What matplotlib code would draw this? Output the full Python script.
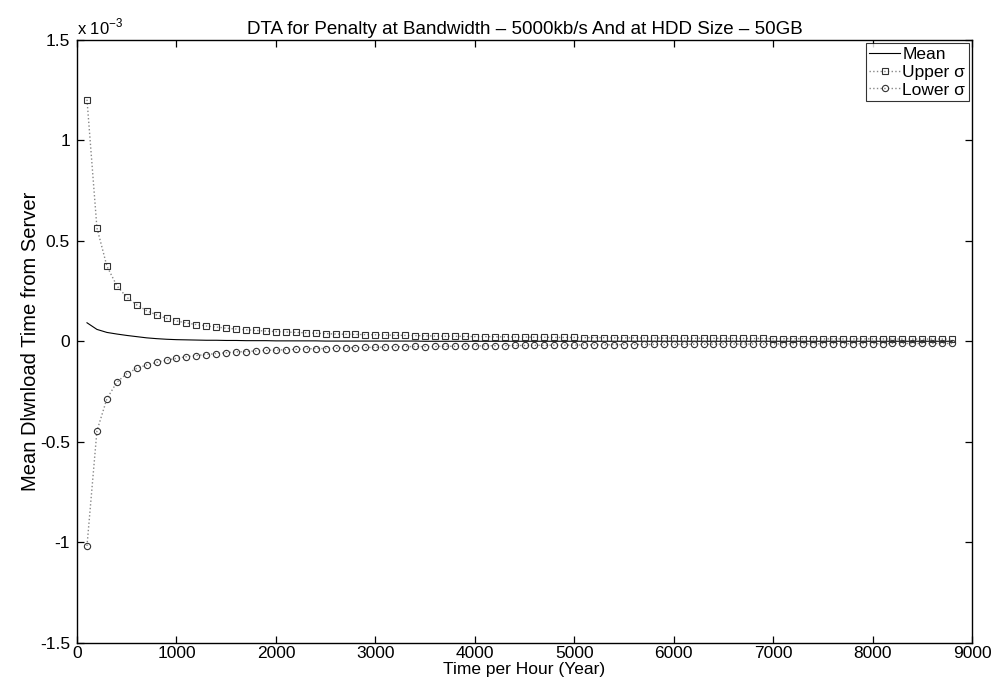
import matplotlib
matplotlib.use("Agg")
import matplotlib.pyplot as plt
import numpy as np

plt.rcParams['font.family'] = ['Liberation Sans', 'DejaVu Sans']
plt.rcParams['mathtext.fontset'] = 'custom'
plt.rcParams['mathtext.rm'] = 'Liberation Sans'

# Time per hour (x), every 100 h from 100 to 8800
hours = list(range(100, 8900, 100))

# Mean download time (units of 1e-3)
mean_vals = [0.093, 0.060, 0.045, 0.037, 0.030, 0.024, 0.018, 0.014, 0.011, 0.009,
             0.008, 0.007, 0.006, 0.006, 0.005, 0.005, 0.004, 0.004, 0.004, 0.003,
             0.003, 0.003, 0.003, 0.003, 0.002, 0.002, 0.002, 0.002, 0.002, 0.002,
             0.002, 0.002, 0.002, 0.002, 0.001, 0.001, 0.001, 0.001, 0.001, 0.001,
             0.001, 0.001, 0.001, 0.001, 0.001, 0.001, 0.001, 0.001, 0.001, 0.001,
             0.001, 0.001, 0.001, 0.001, 0.001, 0.001, 0.001, 0.001, 0.001, 0.001,
             0.001, 0.001, 0.001, 0.001, 0.001, 0.001, 0.001, 0.001, 0.001, 0.001,
             0.001, 0.001, 0.001, 0.001, 0.001, 0.001, 0.001, 0.001, 0.001, 0.001,
             0.001, 0.001, 0.001, 0.001, 0.001, 0.001, 0.001, 0.001]

# Standard deviation (units of 1e-3)
sigma_vals = [1.110, 0.505, 0.330, 0.240, 0.190, 0.158, 0.135, 0.118, 0.104, 0.093,
              0.084, 0.077, 0.071, 0.066, 0.061, 0.057, 0.054, 0.051, 0.048, 0.046,
              0.044, 0.042, 0.040, 0.038, 0.037, 0.035, 0.034, 0.033, 0.032, 0.031,
              0.030, 0.029, 0.028, 0.027, 0.027, 0.026, 0.025, 0.025, 0.024, 0.023,
              0.023, 0.022, 0.022, 0.021, 0.021, 0.020, 0.020, 0.019, 0.019, 0.019,
              0.018, 0.018, 0.018, 0.017, 0.017, 0.017, 0.016, 0.016, 0.016, 0.016,
              0.015, 0.015, 0.015, 0.015, 0.014, 0.014, 0.014, 0.014, 0.014, 0.013,
              0.013, 0.013, 0.013, 0.013, 0.012, 0.012, 0.012, 0.012, 0.012, 0.012,
              0.012, 0.011, 0.011, 0.011, 0.011, 0.011, 0.011, 0.011]

x = np.array(hours)
m = np.array(mean_vals) * 1e-3
s = np.array(sigma_vals) * 1e-3
upper = m + s
lower = m - s

fig = plt.figure(figsize=(9.98, 6.89), dpi=100)
ax = fig.add_axes([0.0772, 0.0668, 0.8968, 0.8752])

ax.plot(x, m, '-', color='black', lw=0.8, label='Mean')
ax.plot(x, upper, ':', color='#888888', lw=1.0, marker='s', markersize=4.5,
        markerfacecolor='none', markeredgecolor='#333333', markeredgewidth=0.8,
        label='Upper \u03c3')
ax.plot(x, lower, ':', color='#888888', lw=1.0, marker='o', markersize=4.5,
        markerfacecolor='none', markeredgecolor='#333333', markeredgewidth=0.8,
        label='Lower \u03c3')

ax.set_xlim(0, 9000)
ax.set_ylim(-1.5e-3, 1.5e-3)
ax.set_xticks(np.arange(0, 9001, 1000))
ax.set_yticks([-1.5e-3, -1e-3, -0.5e-3, 0, 0.5e-3, 1e-3, 1.5e-3])
ax.set_yticklabels(['-1.5', '-1', '-0.5', '0', '0.5', '1', '1.5'])
ax.tick_params(direction='in', top=True, right=True, labelsize=12.5, length=5, width=0.9)
ax.tick_params(axis='x', pad=2)
ax.tick_params(axis='y', pad=5)
for sp in ax.spines.values():
    sp.set_linewidth(1.0)

ax.text(0.0, 1.004, r'x 10$^{-3}$', transform=ax.transAxes, fontsize=12,
        ha='left', va='bottom')

ax.set_title('DTA for Penalty at Bandwidth \u2013 5000kb/s And at HDD Size \u2013 50GB',
             fontsize=13.5, pad=4)
ax.set_xlabel('Time per Hour (Year)', fontsize=12.5, labelpad=1)
ax.set_ylabel('Mean Dlwnload Time from Server', fontsize=14.5, labelpad=0)

leg = ax.legend(loc='upper right', fontsize=12.5, frameon=True, fancybox=False,
                edgecolor='black', borderpad=0.2, handlelength=1.8,
                handletextpad=0.1, labelspacing=0.15, borderaxespad=0.2)
leg.get_frame().set_linewidth(0.8)

fig.savefig('out.png', dpi=100)
